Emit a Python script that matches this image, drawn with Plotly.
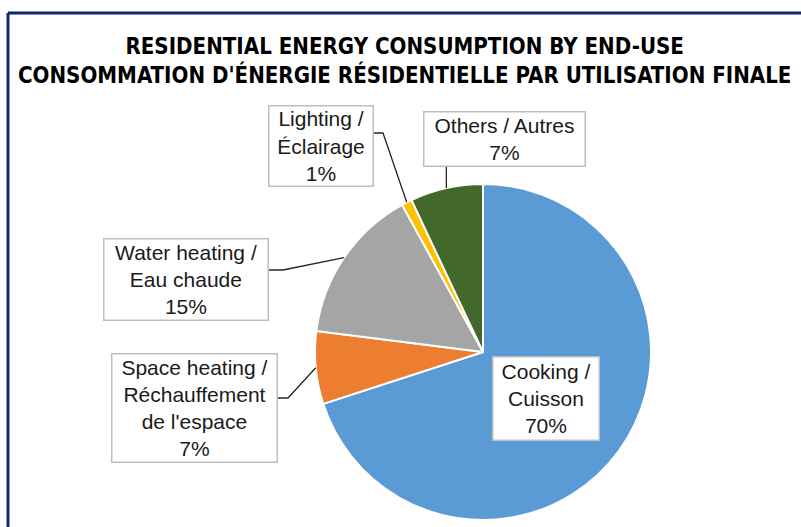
import math
import plotly.graph_objects as go

# ---- data ----
labels = ["Cooking / Cuisson", "Space heating / Réchauffement de l'espace",
          "Water heating / Eau chaude", "Lighting / Éclairage", "Others / Autres"]
label_text = ["Cooking /<br>Cuisson", "Space heating /<br>Réchauffement<br>de l'espace",
              "Water heating /<br>Eau chaude", "Lighting /<br>Éclairage", "Others / Autres"]
values = [70, 7, 15, 1, 7]
colors = ["#5B9BD5", "#ED7D31", "#A5A5A5", "#FFC000", "#43682B"]
title_lines = ["RESIDENTIAL ENERGY CONSUMPTION BY END-USE",
               "CONSOMMATION D'ÉNERGIE RÉSIDENTIELLE PAR UTILISATION FINALE"]

W, H = 801, 527
# pie geometry (pixels)
CX, CY, R = 483, 352, 168

def px(x):
    return x / W

def py(y):
    return 1 - y / H

# label boxes: center x, center y, width, height (pixels), leader (start point, elbow) or None
boxes = [
    dict(cx=545.5, cy=398, w=107, h=84, leader=None),
    dict(cx=194, cy=407.5, w=166, h=109, leader=[(277, 398), (288, 398)]),
    dict(cx=185.5, cy=279, w=165, h=82, leader=[(268, 270), (283, 270)]),
    dict(cx=320.5, cy=145.5, w=105, h=81, leader=[(373, 133), (383, 133)]),
    dict(cx=504, cy=139.5, w=162, h=55, leader="vertical"),
]

fig = go.Figure(go.Pie(
    labels=labels, values=values, sort=False, direction="clockwise", rotation=0,
    marker=dict(colors=colors, line=dict(color="white", width=2)),
    textinfo="none", hoverinfo="label+percent", showlegend=False,
    domain=dict(x=[px(CX - R), px(CX + R)], y=[py(CY + R), py(CY - R)]),
))

total = sum(values)
annotations = []
shapes = []
cum = 0
for i, v in enumerate(values):
    pct = round(100 * v / total)
    mid = (cum + v / 2) / total * 2 * math.pi
    cum += v
    ex, ey = CX + R * math.sin(mid), CY - R * math.cos(mid)
    b = boxes[i]
    annotations.append(dict(
        x=px(b["cx"]), y=py(b["cy"]), xref="paper", yref="paper",
        xanchor="center", yanchor="middle", showarrow=False,
        text=f"{label_text[i]}<br>{pct}%", align="center",
        width=b["w"] - 4, height=b["h"] - 4, borderpad=1,
        bgcolor="white", bordercolor="#BFBFBF", borderwidth=1.5,
        font=dict(family="Liberation Sans, Arial, sans-serif", size=21, color="#1a1a1a"),
    ))
    ld = b["leader"]
    if ld is None:
        continue
    if ld == "vertical":
        pts = [(ex, b["cy"] + b["h"] / 2), (ex, ey)]
    else:
        pts = list(ld) + [(ex, ey)]
    path = "M " + " L ".join(f"{px(x)},{py(y)}" for x, y in pts)
    shapes.append(dict(type="path", path=path, xref="paper", yref="paper",
                       line=dict(color="#262626", width=1.3)))

# title
annotations.append(dict(
    x=px(404), y=py(60), xref="paper", yref="paper", xanchor="center", yanchor="middle",
    showarrow=False, text="<b>" + title_lines[0] + "<br>" + title_lines[1] + "</b>",
    font=dict(family="DejaVu Sans Condensed, Liberation Sans Narrow, sans-serif",
              size=22.1, color="#000000"),
))

# chart frame (navy border, top and left visible)
shapes.append(dict(type="line", xref="paper", yref="paper",
                   x0=px(8), y0=py(13), x1=1.05, y1=py(13),
                   line=dict(color="#0B2A66", width=3)))
shapes.append(dict(type="line", xref="paper", yref="paper",
                   x0=px(8), y0=py(13), x1=px(8), y1=-0.05,
                   line=dict(color="#0B2A66", width=3)))

fig.update_layout(
    width=W, height=H, margin=dict(l=0, r=0, t=0, b=0),
    paper_bgcolor="white", plot_bgcolor="white",
    annotations=annotations, shapes=shapes,
)

fig.write_html("out.html", config={"displayModeBar": False},
               post_script="document.body.style.margin='0';document.body.style.overflow='hidden';")
